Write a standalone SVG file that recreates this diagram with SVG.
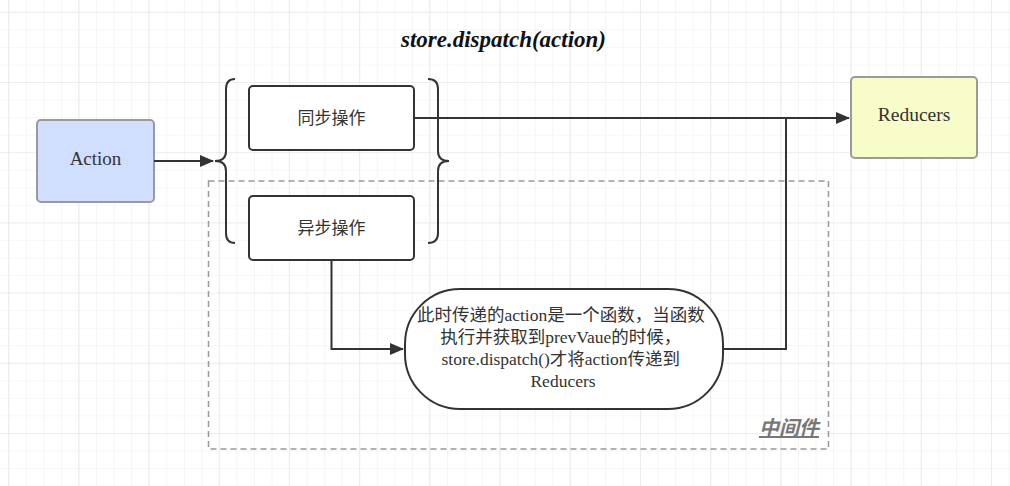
<svg xmlns="http://www.w3.org/2000/svg" width="1010" height="486" viewBox="0 0 1010 486">
<defs>
<pattern id="gs" x="8.3" y="11.8" width="17.55" height="17.55" patternUnits="userSpaceOnUse">
<path d="M0,0 H17.55 M0,0 V17.55" stroke="#efefef" stroke-width="1.2" fill="none"/>
</pattern>
<pattern id="gl" x="78.3" y="82" width="70.2" height="70.2" patternUnits="userSpaceOnUse">
<path d="M0,0 H70.2 M0,0 V70.2" stroke="#e3e3e3" stroke-width="1.2" fill="none"/>
</pattern>
<marker id="arr" markerWidth="14" markerHeight="12" refX="13" refY="6" orient="auto" markerUnits="userSpaceOnUse">
<path d="M0,0 L14,6 L0,12 Z" fill="#333"/>
</marker>
</defs>
<style>
.box{fill:#fff;stroke:#333;stroke-width:2}
.cjk{font-family:"Noto Sans CJK SC","Liberation Sans",sans-serif;fill:#333;text-anchor:middle}
.ser{font-family:"Liberation Serif","Noto Sans CJK SC",serif;fill:#333;text-anchor:middle}
.conn{fill:none;stroke:#333;stroke-width:2}
</style>
<rect width="1010" height="486" fill="#fff"/>
<rect width="1010" height="486" fill="url(#gs)"/>
<rect width="1010" height="486" fill="url(#gl)"/>

<text x="503.5" y="47" font-family="'Liberation Serif',serif" font-size="23" font-weight="bold" font-style="italic" fill="#111" text-anchor="middle">store.dispatch(action)</text>

<g id="middleware">
<rect x="208.5" y="181" width="620" height="268" fill="none" stroke="#999" stroke-width="1.5" stroke-dasharray="6,4"/>
<text x="789" y="435" font-family="'Noto Sans CJK SC',sans-serif" font-size="20" font-weight="bold" font-style="italic" fill="#777" text-anchor="middle" text-decoration="underline">中间件</text>
</g>

<g id="action">
<rect x="37" y="120" width="117" height="82" rx="4" fill="#d0deff" stroke="#9a9a9a" stroke-width="2"/>
<text class="ser" x="95.5" y="165" font-size="19">Action</text>
</g>

<g id="reducers">
<rect x="851" y="77" width="126" height="81" rx="4" fill="#f8fcc9" stroke="#9a9a9a" stroke-width="2"/>
<text class="ser" x="914" y="121" font-size="19.5">Reducers</text>
</g>

<g id="braces">
<path class="conn" d="M235,79 Q226,79 226,89 L226,151 Q226,161 215,161 Q226,161 226,171 L226,233 Q226,243 235,243"/>
<path class="conn" d="M428,79 Q438,79 438,89 L438,151 Q438,161 449,161 Q438,161 438,171 L438,233 Q438,243 428,243"/>
</g>

<g id="sync">
<rect class="box" x="249" y="86" width="165" height="64" rx="4"/>
<text class="cjk" x="331.5" y="124" font-size="17">同步操作</text>
</g>

<g id="async">
<rect class="box" x="249" y="196" width="165" height="64" rx="4"/>
<text class="cjk" x="331.5" y="234" font-size="17">异步操作</text>
</g>

<g id="func">
<rect class="box" x="405" y="289" width="318" height="120" rx="55"/>
<text class="ser" font-size="17.5">
<tspan x="563" y="321">此时传递的action是一个函数，当函数</tspan>
<tspan x="563" y="343">执行并获取到prevVaue的时候，</tspan>
<tspan x="563" y="365">store.dispatch()才将action传递到</tspan>
<tspan x="563" y="387">Reducers</tspan>
</text>
</g>

<g id="connectors">
<path class="conn" d="M154,161 L213,161" marker-end="url(#arr)"/>
<path class="conn" d="M414,118 L849,118" marker-end="url(#arr)"/>
<path class="conn" d="M331.5,260 L331.5,349 L403,349" marker-end="url(#arr)"/>
<path class="conn" d="M723,349 L786,349 L786,118"/>
</g>
</svg>
